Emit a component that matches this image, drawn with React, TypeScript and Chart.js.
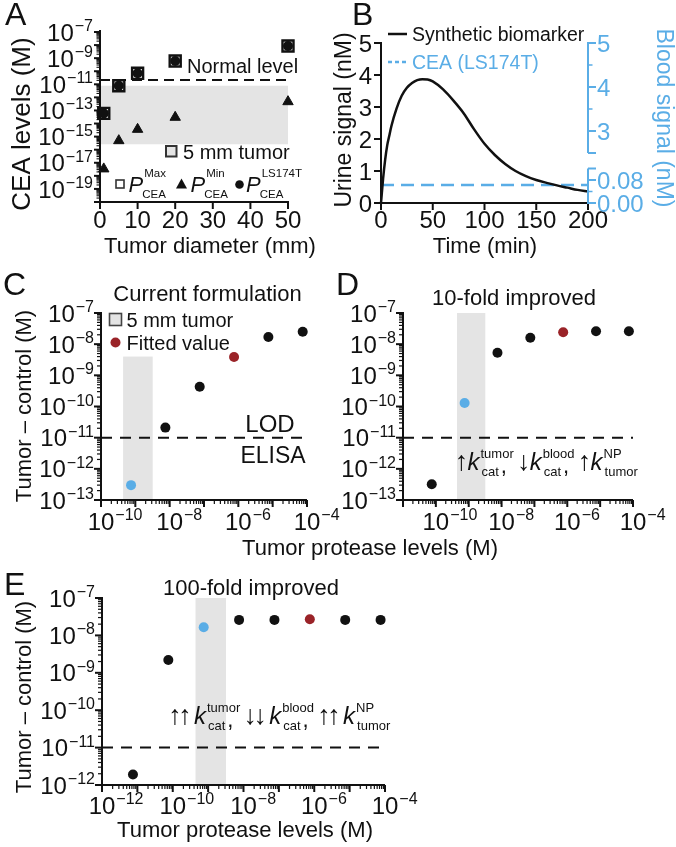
import React, { useEffect, useRef } from 'react';
import { Chart, registerables } from 'chart.js';

Chart.register(...registerables);

const W = 676;
const H = 847;
const FF = '"Liberation Sans", Arial, Helvetica, "DejaVu Sans", sans-serif';
const INK = '#111111';
const BLUE = '#5aade6';
const RED = '#9a2328';
const BAND = '#e4e4e4';

// ---------- Panel A : CEA levels vs tumor diameter ----------
const A_diameter = [1, 5, 10, 20, 50];
const A_pCEAmax = [6e-14, 7.8e-12, 6.9e-11, 6e-10, 8.5e-9];
const A_pCEAls174t = [6e-14, 7.8e-12, 6.9e-11, 6e-10, 8.5e-9];
const A_pCEAmin = [3.4e-18, 4.9e-16, 3.6e-15, 3e-14, 4.7e-13];
const A_normalLevel = 2.1e-11;
const A_tumorBand = [2.6e-16, 7.8e-12];
const A_xRange = [0, 50];
const A_yRange = [1e-20, 1e-7];
const A_xTicks = [0, 10, 20, 30, 40, 50];
const A_yLabelExps = [-7, -9, -11, -13, -15, -17, -19];

// ---------- Panel B : urine vs blood signal ----------
const B_time = [0, 2, 4, 6, 8, 10, 15, 20, 25, 30, 35, 40, 45, 50, 60, 70, 80, 90, 100, 110, 120, 130, 140, 150, 160, 170, 180, 190, 200];
const B_urine = [0, 0.75, 1.35, 1.8, 2.1, 2.4, 2.95, 3.35, 3.6, 3.75, 3.84, 3.87, 3.86, 3.8, 3.55, 3.2, 2.8, 2.3, 1.85, 1.5, 1.22, 1.0, 0.84, 0.72, 0.63, 0.55, 0.48, 0.41, 0.36];
const B_ceaBlood = 0.063;
const B_xRange = [0, 200];
const B_urineRange = [0, 5];
const B_bloodLowRange = [0, 0.5565];
const B_bloodHighRange = [1.3636, 5];
const B_xTicks = [0, 50, 100, 150, 200];
const B_urineTicks = [0, 1, 2, 3, 4, 5];
const B_bloodUpperMajor = [5, 4, 3, 2.5];
const B_bloodUpperMinor = [4.5, 3.5];
const B_bloodUpperLabels = [5, 4, 3];
const B_bloodLowerMajor = [0, 0.08, 0.12];
const B_bloodLowerMinor = [0.04];
const B_bloodLowerLabels = [0, 0.08];

// ---------- Panels C, D, E ----------
const LOD_ELISA = 1e-11;
const TUMOR_5MM_BAND = [4.4e-10, 3.2e-9];
const KIND_COLOR: Record<string, string> = { tumor5mm: BLUE, model: INK, fitted: RED };

const C_protease = [7.5e-10, 7.5e-9, 7.5e-8, 7.5e-7, 7.5e-6, 7.5e-5];
const C_signal = [3e-13, 2.1e-11, 4.3e-10, 3.9e-9, 1.7e-8, 2.5e-8];
const C_kind = ['tumor5mm', 'model', 'model', 'fitted', 'model', 'model'];
const C_xRange = [1e-10, 1e-4];
const C_yRange = [1e-13, 1e-7];
const C_bandTop = 4e-9;
const C_xLabelExps = [-10, -8, -6, -4];
const C_yLabelExps = [-7, -8, -9, -10, -11, -12, -13];

const D_protease = [7.5e-11, 7.5e-10, 7.5e-9, 7.5e-8, 7.5e-7, 7.5e-6, 7.5e-5];
const D_signal = [3.2e-13, 1.3e-10, 5.3e-9, 1.6e-8, 2.4e-8, 2.6e-8, 2.6e-8];
const D_kind = ['model', 'tumor5mm', 'model', 'model', 'fitted', 'model', 'model'];
const D_xRange = [1e-11, 1e-4];
const D_yRange = [1e-13, 1e-7];
const D_xLabelExps = [-10, -8, -6, -4];
const D_yLabelExps = [-7, -8, -9, -10, -11, -12, -13];

const E_protease = [7.5e-12, 7.5e-11, 7.5e-10, 7.5e-9, 7.5e-8, 7.5e-7, 7.5e-6, 7.5e-5];
const E_signal = [1.9e-12, 2.2e-9, 1.66e-8, 2.6e-8, 2.6e-8, 2.7e-8, 2.6e-8, 2.6e-8];
const E_kind = ['model', 'model', 'tumor5mm', 'model', 'model', 'fitted', 'model', 'model'];
const E_xRange = [1e-12, 1e-4];
const E_yRange = [1e-12, 1e-7];
const E_xLabelExps = [-12, -10, -8, -6, -4];
const E_yLabelExps = [-7, -8, -9, -10, -11, -12];

// ---------- drawing helpers ----------
type Ctx = CanvasRenderingContext2D;
const TICK_FS = 24;
const SUP_FS = 16;

function font(size: number, italic = false) {
  return `${italic ? 'italic ' : ''}${size}px ${FF}`;
}
function text(ctx: Ctx, s: string, x: number, yc: number, size: number, align: CanvasTextAlign = 'left', color = INK, italic = false) {
  ctx.save();
  ctx.font = font(size, italic);
  ctx.fillStyle = color;
  ctx.textAlign = align;
  ctx.textBaseline = 'alphabetic';
  ctx.fillText(s, x, yc + 0.358 * size);
  ctx.restore();
}
function vtext(ctx: Ctx, s: string, x: number, yc: number, size: number, dir = -1, color = INK) {
  ctx.save();
  ctx.translate(x, yc);
  ctx.rotate((dir * Math.PI) / 2);
  text(ctx, s, 0, 0, size, 'center', color);
  ctx.restore();
}
function line(ctx: Ctx, x1: number, y1: number, x2: number, y2: number, color = INK, lw = 2, dash: number[] = []) {
  ctx.save();
  ctx.strokeStyle = color;
  ctx.lineWidth = lw;
  ctx.setLineDash(dash);
  ctx.beginPath();
  ctx.moveTo(x1, y1);
  ctx.lineTo(x2, y2);
  ctx.stroke();
  ctx.restore();
}
function drawPow(ctx: Ctx, exp: number, x: number, yc: number, mode: 'right' | 'center', color = INK) {
  const base = TICK_FS;
  const sup = SUP_FS;
  ctx.save();
  ctx.fillStyle = color;
  ctx.textAlign = 'left';
  ctx.textBaseline = 'alphabetic';
  ctx.font = font(base);
  const wb = ctx.measureText('10').width;
  const es = (exp < 0 ? '\u2212' : '') + Math.abs(exp);
  ctx.font = font(sup);
  const ws = ctx.measureText(es).width;
  const x0 = mode === 'right' ? x - wb - 1 - ws : x - wb / 2;
  ctx.font = font(base);
  ctx.fillText('10', x0, yc + 0.358 * base);
  ctx.font = font(sup);
  ctx.fillText(es, x0 + wb + 1, yc - 1);
  ctx.restore();
}
function logTicks(min: number, max: number) {
  const major: number[] = [];
  const minor: number[] = [];
  for (let e = Math.floor(Math.log10(min)); e <= Math.ceil(Math.log10(max)); e++) {
    for (let m = 1; m <= 9; m++) {
      const v = m * Math.pow(10, e);
      if (v < min * 0.999 || v > max * 1.001) continue;
      (m === 1 ? major : minor).push(v);
    }
  }
  return { major, minor };
}
function letter(ctx: Ctx, s: string, x: number, yc: number) {
  text(ctx, s, x, yc, 32, 'left', INK);
}
function drawKAnno(
  ctx: Ctx,
  x: number,
  B: number,
  arrowGap: number,
  items: { arrows: string[]; sup: string; sub: string }[]
) {
  ctx.save();
  ctx.fillStyle = INK;
  ctx.textBaseline = 'alphabetic';
  ctx.textAlign = 'left';
  items.forEach((it, i) => {
    ctx.font = font(27);
    it.arrows.forEach((a) => {
      const aw = ctx.measureText(a).width;
      ctx.fillText(a, x + (10 - aw) / 2, B);
      x += 10;
    });
    x += arrowGap;
    ctx.font = font(24, true);
    ctx.fillText('k', x, B);
    x += ctx.measureText('k').width + 1;
    ctx.font = font(13);
    ctx.fillText(it.sup, x, B - 12);
    const wsup = ctx.measureText(it.sup).width;
    ctx.fillText(it.sub, x + 1, B + 6);
    const wsub = ctx.measureText(it.sub).width;
    let end = x + wsup;
    if (i < items.length - 1) {
      ctx.font = font(22);
      const cx = x + 1 + wsub + 2;
      ctx.fillText(',', cx, B + 3);
      end = Math.max(end, cx + ctx.measureText(',').width);
    }
    x = end + 5;
  });
  ctx.restore();
}

// log-log axes for panels C, D, E
function drawLogAxes(chart: any, xExps: number[], yExps: number[], xLabelY: number) {
  const { ctx, chartArea: ca, scales } = chart;
  const xs = scales.x;
  const ys = scales.y;
  line(ctx, ca.left, ca.top - 1, ca.left, ca.bottom + 1, INK, 2);
  line(ctx, ca.left - 1, ca.bottom, ca.right, ca.bottom, INK, 2);
  const yt = logTicks(ys.min, ys.max);
  yt.major.forEach((v) => line(ctx, ca.left - 7, ys.getPixelForValue(v), ca.left, ys.getPixelForValue(v), INK, 2));
  yt.minor.forEach((v) => line(ctx, ca.left - 4, ys.getPixelForValue(v), ca.left, ys.getPixelForValue(v), INK, 1.2));
  const xt = logTicks(xs.min, xs.max);
  xt.major.forEach((v) => line(ctx, xs.getPixelForValue(v), ca.bottom, xs.getPixelForValue(v), ca.bottom + 7, INK, 2));
  xt.minor.forEach((v) => line(ctx, xs.getPixelForValue(v), ca.bottom, xs.getPixelForValue(v), ca.bottom + 4, INK, 1.2));
  yExps.forEach((e) => drawPow(ctx, e, ca.left - 7, ys.getPixelForValue(Math.pow(10, e)), 'right'));
  xExps.forEach((e) => drawPow(ctx, e, xs.getPixelForValue(Math.pow(10, e)), xLabelY, 'center'));
}

function baseOptions(area: { l: number; t: number; r: number; b: number }, scales: any) {
  return {
    responsive: false,
    animation: false as const,
    devicePixelRatio: 1,
    events: [],
    layout: { padding: { left: area.l, top: area.t, right: W - area.r, bottom: H - area.b } },
    scales,
    plugins: { legend: { display: false }, tooltip: { enabled: false }, title: { display: false } },
  };
}

function pts(xs: number[], ys: number[]) {
  return xs.map((x, i) => ({ x, y: ys[i] }));
}

// ---------- Panel builders ----------
function makeA(canvas: HTMLCanvasElement) {
  const plugin = {
    id: 'panelA',
    beforeDatasetsDraw(chart: any) {
      const { ctx, chartArea: ca, scales } = chart;
      const y1 = scales.y.getPixelForValue(A_tumorBand[1]);
      const y0 = scales.y.getPixelForValue(A_tumorBand[0]);
      ctx.save();
      ctx.fillStyle = BAND;
      ctx.fillRect(ca.left, y1, ca.right - ca.left, y0 - y1);
      ctx.restore();
    },
    afterDraw(chart: any) {
      const { ctx, chartArea: ca, scales } = chart;
      const xs = scales.x;
      const ys = scales.y;
      line(ctx, ca.left, ca.top - 2, ca.left, ca.bottom + 1, INK, 2);
      line(ctx, ca.left - 1, ca.bottom, ca.right + 1, ca.bottom, INK, 2);
      const yt = logTicks(ys.min, ys.max);
      yt.major.forEach((v) => line(ctx, ca.left - 6, ys.getPixelForValue(v), ca.left, ys.getPixelForValue(v), INK, 2));
      yt.minor.forEach((v) => line(ctx, ca.left - 3.5, ys.getPixelForValue(v), ca.left, ys.getPixelForValue(v), INK, 1.1));
      A_yLabelExps.forEach((e) => drawPow(ctx, e, ca.left - 7, ys.getPixelForValue(Math.pow(10, e)), 'right'));
      A_xTicks.forEach((v) => {
        const px = xs.getPixelForValue(v);
        line(ctx, px, ca.bottom, px, ca.bottom + 7, INK, 2);
        text(ctx, String(v), px, 219, TICK_FS, 'center');
      });
      text(ctx, 'Tumor diameter (mm)', 210, 245.5, 22, 'center');
      vtext(ctx, 'CEA levels (M)', 21, 124, 26);
      text(ctx, 'Normal level', 187, 66, 20);
      // 5 mm tumor legend
      ctx.save();
      ctx.fillStyle = BAND;
      ctx.strokeStyle = '#333';
      ctx.lineWidth = 2;
      ctx.fillRect(166, 146, 10.5, 10.5);
      ctx.strokeRect(166, 146, 10.5, 10.5);
      ctx.restore();
      text(ctx, '5 mm tumor', 183, 151.5, 20);
      // symbols legend
      ctx.save();
      ctx.strokeStyle = '#333';
      ctx.lineWidth = 1.6;
      ctx.fillStyle = '#fff';
      ctx.fillRect(116, 180, 8, 8);
      ctx.strokeRect(116, 180, 8, 8);
      ctx.fillStyle = INK;
      ctx.beginPath();
      ctx.moveTo(181.5, 178.5);
      ctx.lineTo(187, 188.5);
      ctx.lineTo(176, 188.5);
      ctx.closePath();
      ctx.fill();
      ctx.beginPath();
      ctx.arc(239.5, 184.5, 4.3, 0, Math.PI * 2);
      ctx.fill();
      ctx.restore();
      const pLab = (x: number, sup: string) => {
        ctx.save();
        ctx.fillStyle = INK;
        ctx.textAlign = 'left';
        ctx.textBaseline = 'alphabetic';
        ctx.font = font(22, true);
        ctx.fillText('P', x, 191.5);
        const w = ctx.measureText('P').width;
        ctx.font = font(11.5);
        ctx.fillText(sup, x + w + 1, 176.5);
        ctx.fillText('CEA', x + w - 1, 197.5);
        ctx.restore();
      };
      pLab(128.5, 'Max');
      pLab(190.5, 'Min');
      pLab(246, 'LS174T');
      letter(ctx, 'A', 5, 14);
    },
  };
  return new Chart(canvas, {
    type: 'scatter',
    data: {
      datasets: [
        {
          data: pts(A_diameter, A_pCEAls174t),
          pointStyle: 'circle',
          pointRadius: 5,
          backgroundColor: INK,
          borderColor: INK,
          borderWidth: 0,
          order: 0,
          clip: false,
        },
        {
          data: pts(A_diameter, A_pCEAmax),
          pointStyle: 'rect',
          pointRadius: 7.8,
          backgroundColor: '#ffffff',
          borderColor: INK,
          borderWidth: 2.4,
          order: 1,
          clip: false,
        },
        {
          data: pts(A_diameter, A_pCEAmin),
          pointStyle: 'triangle',
          pointRadius: 6,
          backgroundColor: INK,
          borderColor: INK,
          borderWidth: 1,
          order: 1,
          clip: false,
        },
        {
          data: [
            { x: A_xRange[0], y: A_normalLevel },
            { x: A_xRange[1], y: A_normalLevel },
          ],
          showLine: true,
          pointRadius: 0,
          borderColor: INK,
          borderWidth: 2,
          borderDash: [10, 6],
          order: 2,
          clip: false,
        },
      ],
    },
    options: baseOptions(
      { l: 100, t: 32, r: 288, b: 202 },
      {
        x: { type: 'linear', display: false, min: A_xRange[0], max: A_xRange[1] },
        y: { type: 'logarithmic', display: false, min: A_yRange[0], max: A_yRange[1] },
      }
    ) as any,
    plugins: [plugin],
  } as any);
}

function makeB(canvas: HTMLCanvasElement) {
  const plugin = {
    id: 'panelB',
    afterDraw(chart: any) {
      const { ctx, chartArea: ca, scales } = chart;
      const xs = scales.x;
      const ys = scales.y;
      const lo = scales.yLow;
      const hi = scales.yHigh;
      line(ctx, ca.left, ca.top - 1, ca.left, ca.bottom + 1, INK, 2);
      line(ctx, ca.left - 1, ca.bottom, ca.right, ca.bottom, INK, 2);
      B_urineTicks.forEach((v) => {
        const py = ys.getPixelForValue(v);
        line(ctx, ca.left - 7, py, ca.left, py, INK, 2);
        text(ctx, String(v), ca.left - 9, py, TICK_FS, 'right');
      });
      B_xTicks.forEach((v) => {
        const px = xs.getPixelForValue(v);
        line(ctx, px, ca.bottom, px, ca.bottom + 7, INK, 2);
        text(ctx, String(v), px, 219.5, TICK_FS, 'center');
      });
      // broken right (blood) axis
      const R = ca.right;
      line(ctx, R, hi.getPixelForValue(5) - 1, R, hi.getPixelForValue(2.5), BLUE, 2);
      line(ctx, R, lo.getPixelForValue(0.12), R, lo.getPixelForValue(0) + 1, BLUE, 2);
      B_bloodUpperMajor.forEach((v) => line(ctx, R, hi.getPixelForValue(v), R + 8, hi.getPixelForValue(v), BLUE, 2));
      B_bloodUpperMinor.forEach((v) => line(ctx, R, hi.getPixelForValue(v), R + 4.5, hi.getPixelForValue(v), BLUE, 1.5));
      B_bloodLowerMajor.forEach((v) => line(ctx, R, lo.getPixelForValue(v), R + 8, lo.getPixelForValue(v), BLUE, 2));
      B_bloodLowerMinor.forEach((v) => line(ctx, R, lo.getPixelForValue(v), R + 4.5, lo.getPixelForValue(v), BLUE, 1.5));
      B_bloodUpperLabels.forEach((v) => text(ctx, String(v), R + 9, hi.getPixelForValue(v), TICK_FS, 'left', BLUE));
      B_bloodLowerLabels.forEach((v) => text(ctx, v.toFixed(2), R + 9, lo.getPixelForValue(v), TICK_FS, 'left', BLUE));
      text(ctx, 'Time (min)', 485, 245.5, 22, 'center');
      vtext(ctx, 'Urine signal (nM)', 343, 120, 23);
      vtext(ctx, 'Blood signal (nM)', 665, 118, 23, 1, BLUE);
      // legend
      line(ctx, 388, 34, 407, 34, INK, 2.5);
      text(ctx, 'Synthetic biomarker', 412, 34, 19.5);
      line(ctx, 388, 62, 408, 62, BLUE, 2.5, [4, 3]);
      text(ctx, 'CEA (LS174T)', 412, 62, 19.5, 'left', BLUE);
      letter(ctx, 'B', 352, 14);
    },
  };
  return new Chart(canvas, {
    type: 'scatter',
    data: {
      datasets: [
        {
          data: pts(B_time, B_urine),
          showLine: true,
          pointRadius: 0,
          borderColor: INK,
          borderWidth: 2.5,
          cubicInterpolationMode: 'monotone',
          yAxisID: 'y',
          clip: false,
        },
        {
          data: [
            { x: B_xRange[0], y: B_ceaBlood },
            { x: B_xRange[1], y: B_ceaBlood },
          ],
          showLine: true,
          pointRadius: 0,
          borderColor: BLUE,
          borderWidth: 2.5,
          borderDash: [13, 7],
          yAxisID: 'yLow',
          clip: false,
        },
      ],
    },
    options: baseOptions(
      { l: 381, t: 43, r: 588, b: 203 },
      {
        x: { type: 'linear', display: false, min: B_xRange[0], max: B_xRange[1] },
        y: { type: 'linear', display: false, min: B_urineRange[0], max: B_urineRange[1] },
        yLow: { type: 'linear', display: false, position: 'right', min: B_bloodLowRange[0], max: B_bloodLowRange[1] },
        yHigh: { type: 'linear', display: false, position: 'right', min: B_bloodHighRange[0], max: B_bloodHighRange[1] },
      }
    ) as any,
    plugins: [plugin],
  } as any);
}

function protDatasets(xsArr: number[], ysArr: number[], kinds: string[], xRange: number[]) {
  return [
    {
      data: pts(xsArr, ysArr),
      pointStyle: 'circle',
      pointRadius: 5,
      backgroundColor: kinds.map((k) => KIND_COLOR[k]),
      borderColor: kinds.map((k) => KIND_COLOR[k]),
      borderWidth: 0,
      order: 0,
      clip: false,
    },
    {
      data: [
        { x: xRange[0], y: LOD_ELISA },
        { x: xRange[1], y: LOD_ELISA },
      ],
      showLine: true,
      pointRadius: 0,
      borderColor: INK,
      borderWidth: 2,
      borderDash: [11, 8],
      order: 1,
      clip: false,
    },
  ];
}

function bandPlugin(id: string, top: number | null) {
  return {
    id,
    beforeDatasetsDraw(chart: any) {
      const { ctx, chartArea: ca, scales } = chart;
      const x0 = scales.x.getPixelForValue(TUMOR_5MM_BAND[0]);
      const x1 = scales.x.getPixelForValue(TUMOR_5MM_BAND[1]);
      const yTop = top === null ? ca.top : scales.y.getPixelForValue(top);
      ctx.save();
      ctx.fillStyle = BAND;
      ctx.fillRect(x0, yTop, x1 - x0, ca.bottom - yTop);
      ctx.restore();
    },
  };
}

function makeC(canvas: HTMLCanvasElement) {
  const plugin = {
    id: 'panelC',
    afterDraw(chart: any) {
      const { ctx } = chart;
      drawLogAxes(chart, C_xLabelExps, C_yLabelExps, 521);
      text(ctx, 'Current formulation', 207.5, 293, 22, 'center');
      ctx.save();
      ctx.fillStyle = BAND;
      ctx.strokeStyle = '#444';
      ctx.lineWidth = 1.6;
      ctx.fillRect(109.5, 313.5, 12, 12);
      ctx.strokeRect(109.5, 313.5, 12, 12);
      ctx.fillStyle = RED;
      ctx.beginPath();
      ctx.arc(115.5, 342.5, 5, 0, Math.PI * 2);
      ctx.fill();
      ctx.restore();
      text(ctx, '5 mm tumor', 126.5, 319.5, 20);
      text(ctx, 'Fitted value', 126.5, 342.5, 20);
      text(ctx, 'LOD', 270, 423, 24, 'center');
      text(ctx, 'ELISA', 273, 455, 23, 'center');
      vtext(ctx, 'Tumor \u2013 control (M)', 23, 406, 22);
      text(ctx, 'Tumor protease levels (M)', 370, 547, 22, 'center');
      letter(ctx, 'C', 3, 284);
    },
  };
  return new Chart(canvas, {
    type: 'scatter',
    data: { datasets: protDatasets(C_protease, C_signal, C_kind, C_xRange) },
    options: baseOptions(
      { l: 101, t: 313, r: 307, b: 500 },
      {
        x: { type: 'logarithmic', display: false, min: C_xRange[0], max: C_xRange[1] },
        y: { type: 'logarithmic', display: false, min: C_yRange[0], max: C_yRange[1] },
      }
    ) as any,
    plugins: [bandPlugin('bandC', C_bandTop), plugin],
  } as any);
}

function makeD(canvas: HTMLCanvasElement) {
  const plugin = {
    id: 'panelD',
    afterDraw(chart: any) {
      const { ctx } = chart;
      drawLogAxes(chart, D_xLabelExps, D_yLabelExps, 521);
      text(ctx, '10-fold improved', 514, 297, 22, 'center');
      drawKAnno(ctx, 456.5, 470, 1, [
        { arrows: ['\u2191'], sup: 'tumor', sub: 'cat' },
        { arrows: ['\u2193'], sup: 'blood', sub: 'cat' },
        { arrows: ['\u2191'], sup: 'NP', sub: 'tumor' },
      ]);
      letter(ctx, 'D', 336, 284);
    },
  };
  return new Chart(canvas, {
    type: 'scatter',
    data: { datasets: protDatasets(D_protease, D_signal, D_kind, D_xRange) },
    options: baseOptions(
      { l: 403, t: 313, r: 633, b: 500 },
      {
        x: { type: 'logarithmic', display: false, min: D_xRange[0], max: D_xRange[1] },
        y: { type: 'logarithmic', display: false, min: D_yRange[0], max: D_yRange[1] },
      }
    ) as any,
    plugins: [bandPlugin('bandD', null), plugin],
  } as any);
}

function makeE(canvas: HTMLCanvasElement) {
  const plugin = {
    id: 'panelE',
    afterDraw(chart: any) {
      const { ctx } = chart;
      drawLogAxes(chart, E_xLabelExps, E_yLabelExps, 805);
      text(ctx, '100-fold improved', 251, 587, 22, 'center');
      drawKAnno(ctx, 170, 724, 4, [
        { arrows: ['\u2191', '\u2191'], sup: 'tumor', sub: 'cat' },
        { arrows: ['\u2193', '\u2193'], sup: 'blood', sub: 'cat' },
        { arrows: ['\u2191', '\u2191'], sup: 'NP', sub: 'tumor' },
      ]);
      vtext(ctx, 'Tumor \u2013 control (M)', 23, 697, 22);
      text(ctx, 'Tumor protease levels (M)', 245, 829, 22, 'center');
      letter(ctx, 'E', 4, 584);
    },
  };
  return new Chart(canvas, {
    type: 'scatter',
    data: { datasets: protDatasets(E_protease, E_signal, E_kind, E_xRange) },
    options: baseOptions(
      { l: 102, t: 598, r: 385, b: 785 },
      {
        x: { type: 'logarithmic', display: false, min: E_xRange[0], max: E_xRange[1] },
        y: { type: 'logarithmic', display: false, min: E_yRange[0], max: E_yRange[1] },
      }
    ) as any,
    plugins: [bandPlugin('bandE', null), plugin],
  } as any);
}

export default function App() {
  const rA = useRef<HTMLCanvasElement>(null);
  const rB = useRef<HTMLCanvasElement>(null);
  const rC = useRef<HTMLCanvasElement>(null);
  const rD = useRef<HTMLCanvasElement>(null);
  const rE = useRef<HTMLCanvasElement>(null);

  useEffect(() => {
    const charts = [
      makeA(rA.current as HTMLCanvasElement),
      makeB(rB.current as HTMLCanvasElement),
      makeC(rC.current as HTMLCanvasElement),
      makeD(rD.current as HTMLCanvasElement),
      makeE(rE.current as HTMLCanvasElement),
    ];
    return () => charts.forEach((c) => c.destroy());
  }, []);

  const cs: React.CSSProperties = { position: 'absolute', left: 0, top: 0, width: W, height: H };
  return (
    <div style={{ position: 'fixed', left: 0, top: 0, width: W, height: H, background: '#ffffff', overflow: 'hidden' }}>
      <canvas ref={rA} width={W} height={H} style={cs} />
      <canvas ref={rB} width={W} height={H} style={cs} />
      <canvas ref={rC} width={W} height={H} style={cs} />
      <canvas ref={rD} width={W} height={H} style={cs} />
      <canvas ref={rE} width={W} height={H} style={cs} />
    </div>
  );
}
